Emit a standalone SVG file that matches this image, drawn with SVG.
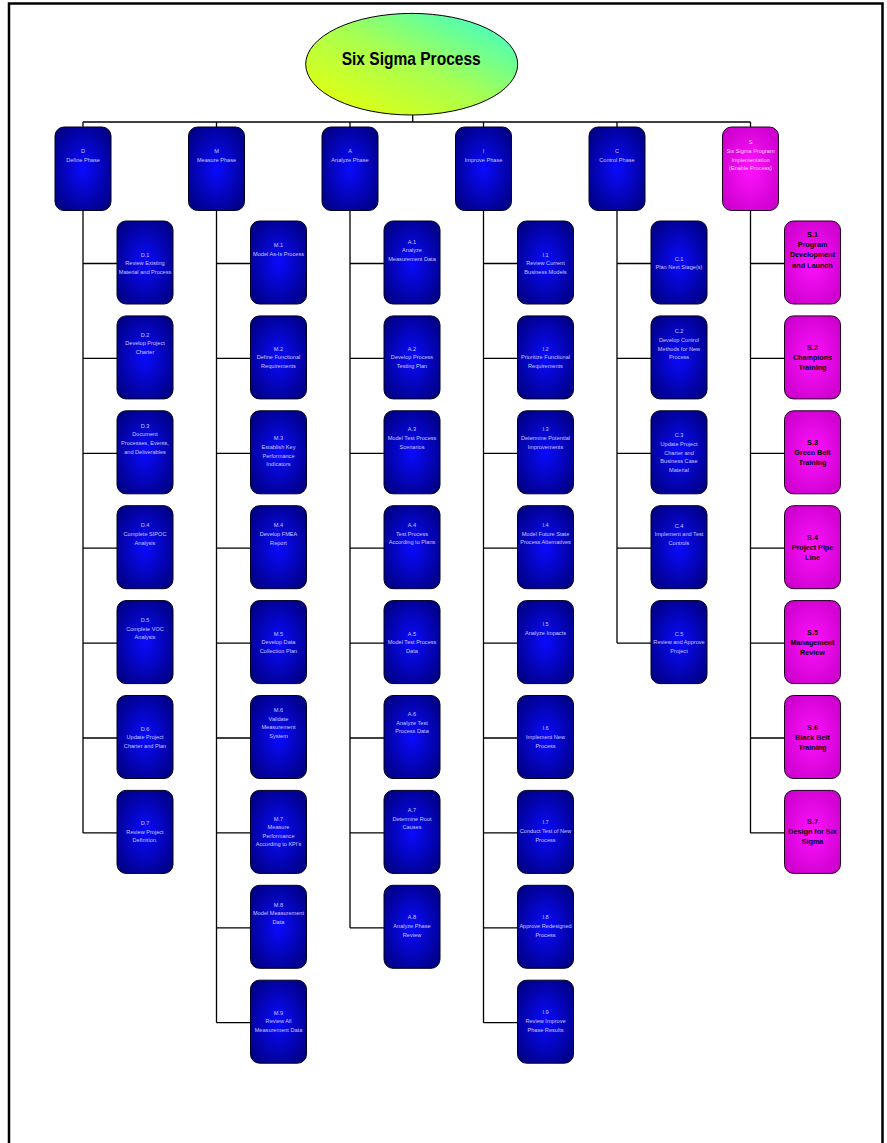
<svg xmlns="http://www.w3.org/2000/svg" width="887" height="1143" viewBox="0 0 887 1143">
<defs>
<radialGradient id="gb" cx="0.5" cy="0.5" r="0.62">
<stop offset="0" stop-color="#0a0aff"/>
<stop offset="1" stop-color="#000085"/>
</radialGradient>
<radialGradient id="gm" cx="0.5" cy="0.5" r="0.62">
<stop offset="0" stop-color="#ff12ff"/>
<stop offset="1" stop-color="#cc00cc"/>
</radialGradient>
<linearGradient id="ge" x1="0" y1="1" x2="1" y2="0">
<stop offset="0" stop-color="#f0ff00"/>
<stop offset="0.5" stop-color="#a8ff50"/>
<stop offset="1" stop-color="#30ffd8"/>
</linearGradient>
</defs>
<style>
.b{fill:url(#gb);stroke:#000020;stroke-width:1}
.m{fill:url(#gm);stroke:#200020;stroke-width:1}
.t{font-family:"Liberation Sans",Arial,sans-serif;font-size:5.6px;fill:#c8c8ff;text-anchor:middle}
.s{font-family:"Liberation Sans",Arial,sans-serif;font-size:7.2px;font-weight:bold;fill:#000;text-anchor:middle}
.st{font-family:"Liberation Sans",Arial,sans-serif;font-size:5.6px;fill:#ffd0ff;text-anchor:middle}
.c{stroke:#000;stroke-width:1.3;fill:none}
</style>
<rect x="0" y="0" width="887" height="1143" fill="#fff"/>
<path d="M9 1150 V3.5 H882.5 V1150" fill="none" stroke="#000" stroke-width="2.5"/>

<g id="connectors" class="c">
<path d="M412.7 115 V122"/>
<path d="M83 122 H750.5"/>
<path d="M83 122 V127 M216.5 122 V127 M350 122 V127 M483.5 122 V127 M617 122 V127 M750.5 122 V127"/>
<path d="M83 210.5 V832.9 M83 263.5 H117 M83 358.4 H117 M83 453.3 H117 M83 548.2 H117 M83 643.1 H117 M83 738 H117 M83 832.9 H117"/>
<path d="M216.5 210.5 V1022.7 M216.5 263.5 H250.5 M216.5 358.4 H250.5 M216.5 453.3 H250.5 M216.5 548.2 H250.5 M216.5 643.1 H250.5 M216.5 738 H250.5 M216.5 832.9 H250.5 M216.5 927.8 H250.5 M216.5 1022.7 H250.5"/>
<path d="M350 210.5 V927.8 M350 263.5 H384 M350 358.4 H384 M350 453.3 H384 M350 548.2 H384 M350 643.1 H384 M350 738 H384 M350 832.9 H384 M350 927.8 H384"/>
<path d="M483.5 210.5 V1022.7 M483.5 263.5 H517.5 M483.5 358.4 H517.5 M483.5 453.3 H517.5 M483.5 548.2 H517.5 M483.5 643.1 H517.5 M483.5 738 H517.5 M483.5 832.9 H517.5 M483.5 927.8 H517.5 M483.5 1022.7 H517.5"/>
<path d="M617 210.5 V643.1 M617 263.5 H651 M617 358.4 H651 M617 453.3 H651 M617 548.2 H651 M617 643.1 H651"/>
<path d="M750.5 210.5 V832.9 M750.5 263.5 H784.5 M750.5 358.4 H784.5 M750.5 453.3 H784.5 M750.5 548.2 H784.5 M750.5 643.1 H784.5 M750.5 738 H784.5 M750.5 832.9 H784.5"/>
</g>

<g id="root">
<ellipse cx="411.7" cy="64.2" rx="106" ry="50.8" fill="url(#ge)" stroke="#000" stroke-width="1"/>
<text x="411.2" y="64.5" font-family="Liberation Sans,Arial,sans-serif" font-size="19" font-weight="bold" text-anchor="middle" textLength="139" lengthAdjust="spacingAndGlyphs">Six Sigma Process</text>
</g>

<g id="D"><rect class="b" x="55" y="127" width="56" height="83.5" rx="9"/><text class="t"><tspan x="83" y="152.7">D</tspan><tspan x="83" y="161.7">Define Phase</tspan></text></g>
<g id="M"><rect class="b" x="188.5" y="127" width="56" height="83.5" rx="9"/><text class="t"><tspan x="216.5" y="152.7">M</tspan><tspan x="216.5" y="161.7">Measure Phase</tspan></text></g>
<g id="A"><rect class="b" x="322" y="127" width="56" height="83.5" rx="9"/><text class="t"><tspan x="350" y="152.7">A</tspan><tspan x="350" y="161.7">Analyze Phase</tspan></text></g>
<g id="I"><rect class="b" x="455.5" y="127" width="56" height="83.5" rx="9"/><text class="t"><tspan x="483.5" y="152.7">I</tspan><tspan x="483.5" y="161.7">Improve Phase</tspan></text></g>
<g id="C"><rect class="b" x="589" y="127" width="56" height="83.5" rx="9"/><text class="t"><tspan x="617" y="152.7">C</tspan><tspan x="617" y="161.7">Control Phase</tspan></text></g>
<g id="S"><rect class="m" x="722.5" y="127" width="56" height="83.5" rx="9"/><text class="st"><tspan x="750.5" y="143.7">S</tspan><tspan x="750.5" y="152.6">Six Sigma Program</tspan><tspan x="750.5" y="161.5">Implementation</tspan><tspan x="750.5" y="170.4">(Enable Process)</tspan></text></g>

<g id="D1"><rect class="b" x="117" y="221" width="56" height="83" rx="9"/><text class="t"><tspan x="145" y="256.7">D.1</tspan><tspan x="145" y="265.3">Review Existing</tspan><tspan x="145" y="273.9">Material and Process</tspan></text></g>
<g id="D2"><rect class="b" x="117" y="315.9" width="56" height="83" rx="9"/><text class="t"><tspan x="145" y="336.5">D.2</tspan><tspan x="145" y="345.1">Develop Project</tspan><tspan x="145" y="353.7">Charter</tspan></text></g>
<g id="D3"><rect class="b" x="117" y="410.8" width="56" height="83" rx="9"/><text class="t"><tspan x="145" y="427.8">D.3</tspan><tspan x="145" y="436.4">Document</tspan><tspan x="145" y="445">Processes, Events,</tspan><tspan x="145" y="453.6">and Deliverables</tspan></text></g>
<g id="D4"><rect class="b" x="117" y="505.7" width="56" height="83" rx="9"/><text class="t"><tspan x="145" y="527.4">D.4</tspan><tspan x="145" y="536">Complete SIPOC</tspan><tspan x="145" y="544.6">Analysis</tspan></text></g>
<g id="D5"><rect class="b" x="117" y="600.6" width="56" height="83" rx="9"/><text class="t"><tspan x="145" y="622.2">D.5</tspan><tspan x="145" y="630.8">Complete VOC</tspan><tspan x="145" y="639.4">Analysis</tspan></text></g>
<g id="D6"><rect class="b" x="117" y="695.5" width="56" height="83" rx="9"/><text class="t"><tspan x="145" y="730.5">D.6</tspan><tspan x="145" y="739.1">Update Project</tspan><tspan x="145" y="747.7">Charter and Plan</tspan></text></g>
<g id="D7"><rect class="b" x="117" y="790.4" width="56" height="83" rx="9"/><text class="t"><tspan x="145" y="825.1">D.7</tspan><tspan x="145" y="833.7">Review Project</tspan><tspan x="145" y="842.3">Definition.</tspan></text></g>

<g id="M1"><rect class="b" x="250.5" y="221" width="56" height="83" rx="9"/><text class="t"><tspan x="278.5" y="247.3">M.1</tspan><tspan x="278.5" y="255.9">Model As-Is Process</tspan></text></g>
<g id="M2"><rect class="b" x="250.5" y="315.9" width="56" height="83" rx="9"/><text class="t"><tspan x="278.5" y="350.5">M.2</tspan><tspan x="278.5" y="359.1">Define Functional</tspan><tspan x="278.5" y="367.7">Requirements</tspan></text></g>
<g id="M3"><rect class="b" x="250.5" y="410.8" width="56" height="83" rx="9"/><text class="t"><tspan x="278.5" y="440.4">M.3</tspan><tspan x="278.5" y="449">Establish Key</tspan><tspan x="278.5" y="457.6">Performance</tspan><tspan x="278.5" y="466.2">Indicators</tspan></text></g>
<g id="M4"><rect class="b" x="250.5" y="505.7" width="56" height="83" rx="9"/><text class="t"><tspan x="278.5" y="527.4">M.4</tspan><tspan x="278.5" y="536">Develop FMEA</tspan><tspan x="278.5" y="544.6">Report</tspan></text></g>
<g id="M5"><rect class="b" x="250.5" y="600.6" width="56" height="83" rx="9"/><text class="t"><tspan x="278.5" y="635.6">M.5</tspan><tspan x="278.5" y="644.2">Develop Data</tspan><tspan x="278.5" y="652.8">Collection Plan</tspan></text></g>
<g id="M6"><rect class="b" x="250.5" y="695.5" width="56" height="83" rx="9"/><text class="t"><tspan x="278.5" y="712.1">M.6</tspan><tspan x="278.5" y="720.7">Validate</tspan><tspan x="278.5" y="729.3">Measurement</tspan><tspan x="278.5" y="737.9">System</tspan></text></g>
<g id="M7"><rect class="b" x="250.5" y="790.4" width="56" height="83" rx="9"/><text class="t"><tspan x="278.5" y="820.5">M.7</tspan><tspan x="278.5" y="829.1">Measure</tspan><tspan x="278.5" y="837.7">Performance</tspan><tspan x="278.5" y="846.3">According to KPI's</tspan></text></g>
<g id="M8"><rect class="b" x="250.5" y="885.3" width="56" height="83" rx="9"/><text class="t"><tspan x="278.5" y="906.7">M.8</tspan><tspan x="278.5" y="915.3">Model Measurement</tspan><tspan x="278.5" y="923.9">Data</tspan></text></g>
<g id="M9"><rect class="b" x="250.5" y="980.2" width="56" height="83" rx="9"/><text class="t"><tspan x="278.5" y="1014.5">M.9</tspan><tspan x="278.5" y="1023.1">Review All</tspan><tspan x="278.5" y="1031.7">Measurement Data</tspan></text></g>

<g id="A1"><rect class="b" x="384" y="221" width="56" height="83" rx="9"/><text class="t"><tspan x="412" y="243.7">A.1</tspan><tspan x="412" y="252.3">Analyze</tspan><tspan x="412" y="260.9">Measurement Data</tspan></text></g>
<g id="A2"><rect class="b" x="384" y="315.9" width="56" height="83" rx="9"/><text class="t"><tspan x="412" y="350.5">A.2</tspan><tspan x="412" y="359.1">Develop Process</tspan><tspan x="412" y="367.7">Testing Plan</tspan></text></g>
<g id="A3"><rect class="b" x="384" y="410.8" width="56" height="83" rx="9"/><text class="t"><tspan x="412" y="431.4">A.3</tspan><tspan x="412" y="440">Model Test Process</tspan><tspan x="412" y="448.6">Scenarios</tspan></text></g>
<g id="A4"><rect class="b" x="384" y="505.7" width="56" height="83" rx="9"/><text class="t"><tspan x="412" y="527">A.4</tspan><tspan x="412" y="535.6">Test Process</tspan><tspan x="412" y="544.2">According to Plans</tspan></text></g>
<g id="A5"><rect class="b" x="384" y="600.6" width="56" height="83" rx="9"/><text class="t"><tspan x="412" y="635.6">A.5</tspan><tspan x="412" y="644.2">Model Test Process</tspan><tspan x="412" y="652.8">Data</tspan></text></g>
<g id="A6"><rect class="b" x="384" y="695.5" width="56" height="83" rx="9"/><text class="t"><tspan x="412" y="716.1">A.6</tspan><tspan x="412" y="724.7">Analyze Test</tspan><tspan x="412" y="733.3">Process Data</tspan></text></g>
<g id="A7"><rect class="b" x="384" y="790.4" width="56" height="83" rx="9"/><text class="t"><tspan x="412" y="812">A.7</tspan><tspan x="412" y="820.6">Determine Root</tspan><tspan x="412" y="829.2">Causes</tspan></text></g>
<g id="A8"><rect class="b" x="384" y="885.3" width="56" height="83" rx="9"/><text class="t"><tspan x="412" y="919.3">A.8</tspan><tspan x="412" y="927.9">Analyze Phase</tspan><tspan x="412" y="936.5">Review</tspan></text></g>

<g id="I1"><rect class="b" x="517.5" y="221" width="56" height="83" rx="9"/><text class="t"><tspan x="545.5" y="256.7">I.1</tspan><tspan x="545.5" y="265.3">Review Current</tspan><tspan x="545.5" y="273.9">Business Models</tspan></text></g>
<g id="I2"><rect class="b" x="517.5" y="315.9" width="56" height="83" rx="9"/><text class="t"><tspan x="545.5" y="350.5">I.2</tspan><tspan x="545.5" y="359.1">Prioritize Functional</tspan><tspan x="545.5" y="367.7">Requirements</tspan></text></g>
<g id="I3"><rect class="b" x="517.5" y="410.8" width="56" height="83" rx="9"/><text class="t"><tspan x="545.5" y="431.4">I.3</tspan><tspan x="545.5" y="440">Determine Potential</tspan><tspan x="545.5" y="448.6">Improvements</tspan></text></g>
<g id="I4"><rect class="b" x="517.5" y="505.7" width="56" height="83" rx="9"/><text class="t"><tspan x="545.5" y="527">I.4</tspan><tspan x="545.5" y="535.6">Model Future State</tspan><tspan x="545.5" y="544.2">Process Alternatives</tspan></text></g>
<g id="I5"><rect class="b" x="517.5" y="600.6" width="56" height="83" rx="9"/><text class="t"><tspan x="545.5" y="626.3">I.5</tspan><tspan x="545.5" y="634.9">Analyze Impacts</tspan></text></g>
<g id="I6"><rect class="b" x="517.5" y="695.5" width="56" height="83" rx="9"/><text class="t"><tspan x="545.5" y="730.3">I.6</tspan><tspan x="545.5" y="738.9">Implement New</tspan><tspan x="545.5" y="747.5">Process</tspan></text></g>
<g id="I7"><rect class="b" x="517.5" y="790.4" width="56" height="83" rx="9"/><text class="t"><tspan x="545.5" y="824.3">I.7</tspan><tspan x="545.5" y="832.9">Conduct Test of New</tspan><tspan x="545.5" y="841.5">Process</tspan></text></g>
<g id="I8"><rect class="b" x="517.5" y="885.3" width="56" height="83" rx="9"/><text class="t"><tspan x="545.5" y="919.3">I.8</tspan><tspan x="545.5" y="927.9">Approve Redesigned</tspan><tspan x="545.5" y="936.5">Process</tspan></text></g>
<g id="I9"><rect class="b" x="517.5" y="980.2" width="56" height="83" rx="9"/><text class="t"><tspan x="545.5" y="1014.3">I.9</tspan><tspan x="545.5" y="1022.9">Review Improve</tspan><tspan x="545.5" y="1031.5">Phase Results</tspan></text></g>

<g id="C1"><rect class="b" x="651" y="221" width="56" height="83" rx="9"/><text class="t"><tspan x="679" y="260.7">C.1</tspan><tspan x="679" y="269.3">Plan Next Stage(s)</tspan></text></g>
<g id="C2"><rect class="b" x="651" y="315.9" width="56" height="83" rx="9"/><text class="t"><tspan x="679" y="333.3">C.2</tspan><tspan x="679" y="341.9">Develop Control</tspan><tspan x="679" y="350.5">Methods for New</tspan><tspan x="679" y="359.1">Process</tspan></text></g>
<g id="C3"><rect class="b" x="651" y="410.8" width="56" height="83" rx="9"/><text class="t"><tspan x="679" y="437.3">C.3</tspan><tspan x="679" y="445.9">Update Project</tspan><tspan x="679" y="454.5">Charter and</tspan><tspan x="679" y="463.1">Business Case</tspan><tspan x="679" y="471.7">Material</tspan></text></g>
<g id="C4"><rect class="b" x="651" y="505.7" width="56" height="83" rx="9"/><text class="t"><tspan x="679" y="527.7">C.4</tspan><tspan x="679" y="536.3">Implement and Test</tspan><tspan x="679" y="544.9">Controls</tspan></text></g>
<g id="C5"><rect class="b" x="651" y="600.6" width="56" height="83" rx="9"/><text class="t"><tspan x="679" y="635.7">C.5</tspan><tspan x="679" y="644.3">Review and Approve</tspan><tspan x="679" y="652.9">Project</tspan></text></g>

<g id="S1"><rect class="m" x="784.5" y="221" width="56" height="83" rx="9"/><text class="s"><tspan x="812.5" y="236.6">S.1</tspan><tspan x="812.5" y="246.9">Program</tspan><tspan x="812.5" y="257.2">Development</tspan><tspan x="812.5" y="267.5">and Launch</tspan></text></g>
<g id="S2"><rect class="m" x="784.5" y="315.9" width="56" height="83" rx="9"/><text class="s"><tspan x="812.5" y="349.6">S.2</tspan><tspan x="812.5" y="359.9">Champions</tspan><tspan x="812.5" y="370.2">Training</tspan></text></g>
<g id="S3"><rect class="m" x="784.5" y="410.8" width="56" height="83" rx="9"/><text class="s"><tspan x="812.5" y="444.6">S.3</tspan><tspan x="812.5" y="454.9">Green Belt</tspan><tspan x="812.5" y="465.2">Training</tspan></text></g>
<g id="S4"><rect class="m" x="784.5" y="505.7" width="56" height="83" rx="9"/><text class="s"><tspan x="812.5" y="539.6">S.4</tspan><tspan x="812.5" y="549.9">Project Pipe</tspan><tspan x="812.5" y="560.2">Line</tspan></text></g>
<g id="S5"><rect class="m" x="784.5" y="600.6" width="56" height="83" rx="9"/><text class="s"><tspan x="812.5" y="634.6">S.5</tspan><tspan x="812.5" y="644.9">Management</tspan><tspan x="812.5" y="655.2">Review</tspan></text></g>
<g id="S6"><rect class="m" x="784.5" y="695.5" width="56" height="83" rx="9"/><text class="s"><tspan x="812.5" y="729.6">S.6</tspan><tspan x="812.5" y="739.9">Black Belt</tspan><tspan x="812.5" y="750.2">Training</tspan></text></g>
<g id="S7"><rect class="m" x="784.5" y="790.4" width="56" height="83" rx="9"/><text class="s"><tspan x="812.5" y="823.6">S.7</tspan><tspan x="812.5" y="833.9">Design for Six</tspan><tspan x="812.5" y="844.2">Sigma</tspan></text></g>
</svg>
